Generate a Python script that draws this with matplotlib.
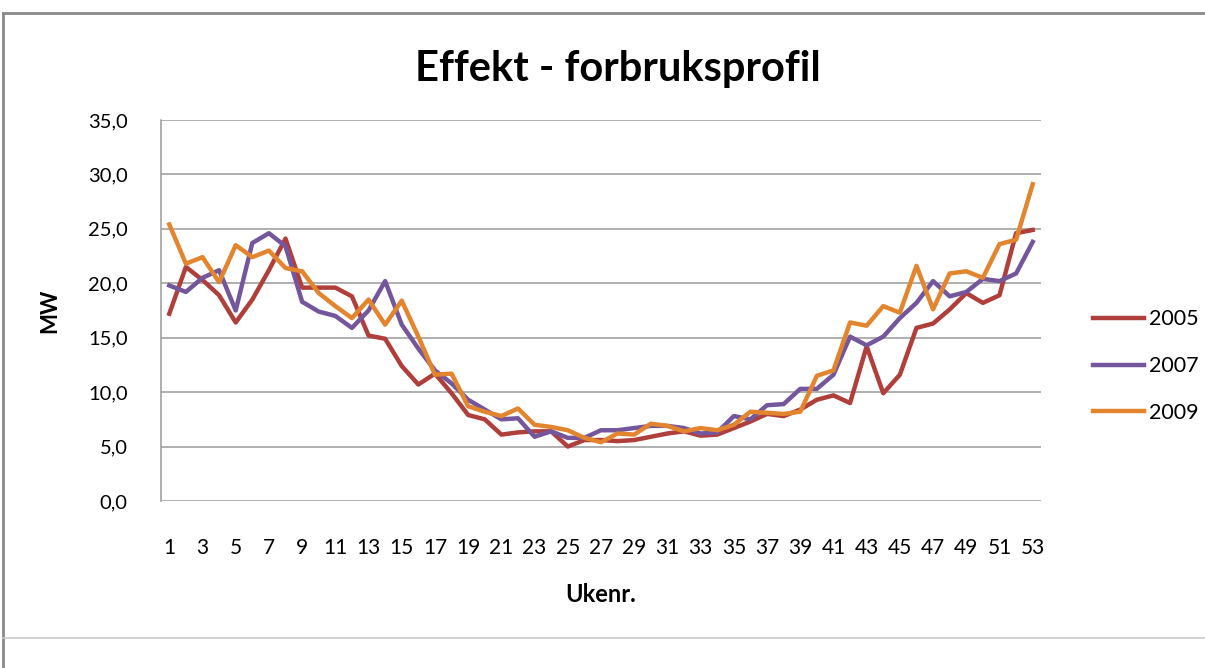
import matplotlib
matplotlib.use("Agg")
import matplotlib.pyplot as plt
from matplotlib.lines import Line2D

# ukenummer 1..53
weeks = list(range(1, 54))

mw_2005 = [17.2, 21.5, 20.3, 18.9, 16.4, 18.5, 21.2, 24.1, 19.6, 19.6,
           19.6, 18.8, 15.2, 14.9, 12.4, 10.7, 11.7, 9.9, 7.9, 7.5,
           6.1, 6.3, 6.4, 6.4, 5.0, 5.6, 5.6, 5.5, 5.6, 5.9,
           6.2, 6.4, 6.0, 6.1, 6.7, 7.3, 8.0, 7.8, 8.4, 9.3,
           9.7, 9.0, 14.2, 9.9, 11.6, 15.9, 16.3, 17.6, 19.1, 18.2,
           18.9, 24.6, 24.9]

mw_2007 = [19.8, 19.2, 20.5, 21.2, 17.5, 23.7, 24.6, 23.4, 18.3, 17.4,
           17.0, 15.9, 17.5, 20.2, 16.2, 14.0, 12.0, 10.8, 9.3, 8.4,
           7.5, 7.6, 5.9, 6.4, 5.8, 5.8, 6.5, 6.5, 6.7, 6.9,
           6.9, 6.7, 6.2, 6.3, 7.8, 7.5, 8.8, 8.9, 10.3, 10.3,
           11.6, 15.1, 14.3, 15.1, 16.8, 18.2, 20.2, 18.8, 19.2, 20.4,
           20.2, 20.9, 23.8]

mw_2009 = [25.4, 21.8, 22.4, 20.1, 23.5, 22.4, 23.0, 21.4, 21.1, 19.1,
           17.9, 16.8, 18.5, 16.2, 18.4, 15.1, 11.6, 11.7, 8.7, 8.2,
           7.8, 8.5, 7.0, 6.8, 6.5, 5.8, 5.4, 6.2, 6.1, 7.1,
           6.9, 6.4, 6.7, 6.5, 7.0, 8.2, 8.1, 8.0, 8.2, 11.5,
           12.0, 16.4, 16.1, 17.9, 17.3, 21.6, 17.6, 20.9, 21.1, 20.5,
           23.6, 24.0, 29.1]

series = [("2005", mw_2005, "#B03E3B"),
          ("2007", mw_2007, "#74569C"),
          ("2009", mw_2009, "#E3852E")]

y_ticks = [0, 5, 10, 15, 20, 25, 30, 35]
x_ticks = weeks[::2]

plt.rcParams['font.family'] = ['Lato', 'DejaVu Sans']

fig = plt.figure(figsize=(12.05, 6.68), dpi=100)
ax = fig.add_axes([0.1336, 0.25, 0.7303, 0.5704])

for name, vals, col in series:
    ax.plot(weeks, vals, color=col, lw=3.2, label=name, solid_joinstyle='round')

ax.set_xlim(0.5, 53.5)
ax.set_ylim(0, 35)
ax.set_yticks(y_ticks)
ax.set_yticklabels([f"{v:.1f}".replace(".", ",") for v in y_ticks])
ax.set_xticks(x_ticks)
ax.set_xticklabels([str(w) for w in x_ticks])
ax.tick_params(axis='y', length=0, pad=24, labelsize=14.5)
ax.tick_params(axis='x', length=0, pad=27, labelsize=15)
ax.grid(axis='y', color='#9a9a9a', lw=1.1)
ax.set_axisbelow(True)
for s in ['top', 'right', 'bottom']:
    ax.spines[s].set_visible(False)
ax.spines['left'].set_color('#9a9a9a')
ax.spines['left'].set_linewidth(1.1)

ax.set_title("Effekt - forbruksprofil", fontsize=30, fontweight='bold', pad=28, x=0.519)
ax.set_ylabel("MW", fontsize=16, fontweight='bold', labelpad=20)
ax.set_xlabel("Ukenr.", fontsize=17, fontweight='bold', labelpad=18)

ax.legend(loc='center left', bbox_to_anchor=(0.891, 0.452),
          bbox_transform=fig.transFigure, frameon=False,
          fontsize=15.5, handlelength=2.37, handletextpad=0.23, labelspacing=1.25)

# rammen rundt diagrammet
fig.add_artist(Line2D([0.0025, 1.0], [0.981, 0.981], color='#8a8a8a', lw=2))
fig.add_artist(Line2D([0.0025, 0.0025], [0.0, 0.981], color='#8a8a8a', lw=2))
fig.add_artist(Line2D([0.0025, 1.0], [0.045, 0.045], color='#cccccc', lw=1.2))

fig.savefig("out.png", dpi=100)
